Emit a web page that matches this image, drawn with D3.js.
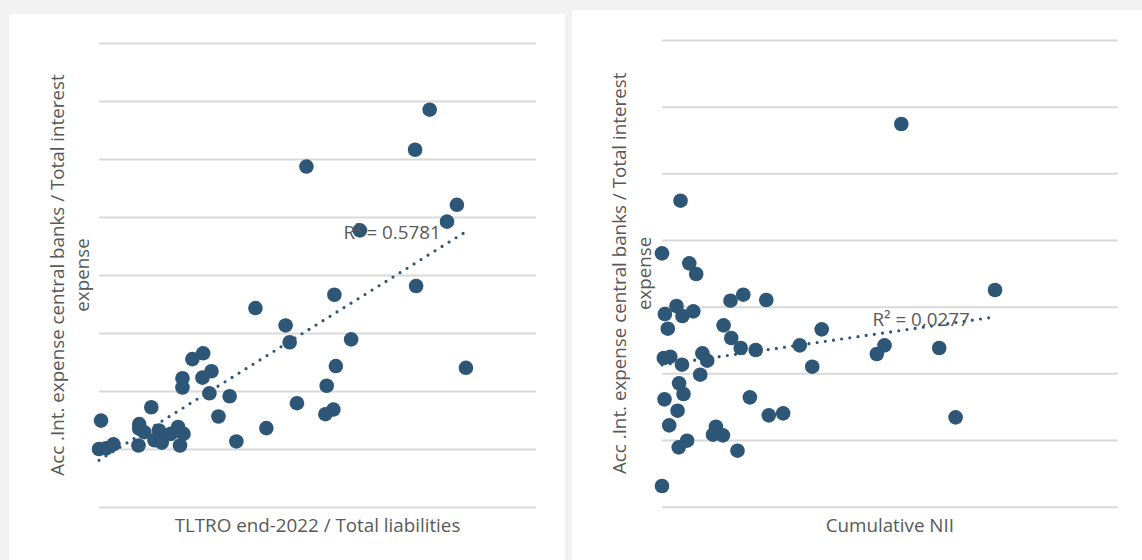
<!DOCTYPE html>
<html>
<head>
<meta charset="utf-8">
<script src="https://cdn.jsdelivr.net/npm/d3@7"></script>
<style>
  html, body { margin: 0; padding: 0; background: #f2f2f2; }
  svg { display: block; }
  text { font-family: "Open Sans", "Noto Sans", sans-serif; fill: #595959; }
</style>
</head>
<body>
<svg id="chart" width="1142" height="560"></svg>
<script>
// Left panel: TLTRO end-2022 / total liabilities vs. central-bank interest share
const tltroX = [0.2270, 0.2170, 0.1424, 0.2457, 0.2389, 0.1791, 0.2177, 0.1616, 0.1074, 0.1281,
                0.1309, 0.1731, 0.2519, 0.1626, 0.1563, 0.1609, 0.1554, 0.1359, 0.1149, 0.0943,
                0.0897, 0.0820, 0.0758, 0.0772, 0.0710, 0.0715, 0.0641, 0.0573, 0.0573, 0.0359,
                0.0014, 0.0000, 0.0049, 0.0099, 0.0271, 0.0276, 0.0276, 0.0311, 0.0411, 0.0381,
                0.0431, 0.0493, 0.0543, 0.0580, 0.0556];
const tltroY = [0.585, 0.516, 0.487, 0.421, 0.392, 0.377, 0.281, 0.266, 0.243, 0.213,
                0.184, 0.189, 0.140, 0.143, 0.109, 0.068, 0.060, 0.079, 0.036, 0.013,
                0.091, 0.056, 0.096, 0.134, 0.123, 0.165, 0.155, 0.122, 0.106, 0.072,
                0.049, 0.000, 0.001, 0.008, 0.006, 0.043, 0.035, 0.029, 0.032, 0.015,
                0.011, 0.026, 0.038, 0.026, 0.006];

// Right panel: cumulative NII vs. central-bank interest share
const niiX = [0.3151, 0.0244, 0.0000, 0.0359, 0.0450, 0.4385, 0.1070, 0.0902, 0.1373, 0.0191,
              0.0038, 0.0412, 0.0269, 0.0076, 0.0811, 0.2103, 0.0912, 0.1036, 0.1234, 0.1814,
              0.2930, 0.2828, 0.3650, 0.0024, 0.0109, 0.0263, 0.0532, 0.0595, 0.0503, 0.1978,
              0.0225, 0.0283, 0.0033, 0.1157, 0.0205, 0.1406, 0.1595, 0.3866, 0.0095, 0.0710,
              0.0672, 0.0802, 0.0330, 0.0220, 0.0994, 0.0000];
const niiY = [0.474, 0.359, 0.280, 0.265, 0.249, 0.225, 0.218, 0.209, 0.210, 0.201,
              0.189, 0.193, 0.186, 0.167, 0.172, 0.166, 0.153, 0.138, 0.135, 0.142,
              0.142, 0.129, 0.138, 0.123, 0.125, 0.113, 0.130, 0.119, 0.098, 0.110,
              0.085, 0.069, 0.061, 0.064, 0.044, 0.037, 0.040, 0.034, 0.022, 0.020,
              0.008, 0.007, -0.001, -0.011, -0.016, -0.069];

const yTitle = ["Acc .Int. expense central banks / Total interest", "expense"];
const leftXTitle = "TLTRO end-2022 / Total liabilities";
const rightXTitle = "Cumulative NII";
const leftR2 = "0.5781";
const rightR2 = "0.0277";

const leftYTicks = d3.range(-0.1, 0.7001, 0.1);
const rightYTicks = d3.range(-0.1, 0.6001, 0.1);

const markColor = "#2e5676";
const gridColor = "#d9d9d9";
const fontSize = 18.8;

const svg = d3.select("#chart");

// Least-squares fit, returns slope/intercept
function fit(xs, ys) {
  const mx = d3.mean(xs), my = d3.mean(ys);
  let sxy = 0, sxx = 0;
  xs.forEach((x, i) => { sxy += (x - mx) * (ys[i] - my); sxx += (x - mx) * (x - mx); });
  const b = sxy / sxx;
  return { b, a: my - b * mx };
}

function panel(cfg) {
  const g = svg.append("g");
  g.append("rect")
    .attr("x", cfg.box[0]).attr("y", cfg.box[1])
    .attr("width", cfg.box[2]).attr("height", cfg.box[3])
    .attr("fill", "#ffffff");

  const x = d3.scaleLinear().domain(cfg.xDomain).range([cfg.plot.left, cfg.plot.right]);
  const y = d3.scaleLinear().domain(cfg.yDomain).range([cfg.plot.bottom, cfg.plot.top]);

  // horizontal gridlines
  const yAxis = d3.axisLeft(y).tickValues(cfg.yTicks)
    .tickSize(-(cfg.plot.right - cfg.plot.left)).tickFormat("");
  const ga = g.append("g").attr("transform", `translate(${cfg.plot.left},0)`).call(yAxis);
  ga.select(".domain").remove();
  ga.selectAll(".tick line").attr("stroke", gridColor).attr("stroke-width", 2);

  // markers
  const pts = cfg.xs.map((v, i) => ({ x: v, y: cfg.ys[i] }));
  g.append("g").selectAll("circle").data(pts).join("circle")
    .attr("cx", d => x(d.x)).attr("cy", d => y(d.y)).attr("r", 7.3)
    .attr("fill", markColor);

  // linear trendline over the data range
  const { a, b } = fit(cfg.xs, cfg.ys);
  const [x0, x1] = d3.extent(cfg.xs);
  g.append("line")
    .attr("x1", x(x0)).attr("y1", y(a + b * x0))
    .attr("x2", x(x1)).attr("y2", y(a + b * x1))
    .attr("stroke", markColor).attr("stroke-width", 3.2)
    .attr("stroke-linecap", "round").attr("stroke-dasharray", "0 8.25");

  // R² label
  g.append("text")
    .attr("x", cfg.r2Pos[0]).attr("y", cfg.r2Pos[1])
    .attr("font-size", fontSize)
    .text("R² = " + cfg.r2);

  // axis titles
  const cx = (cfg.plot.left + cfg.plot.right) / 2;
  g.append("text").attr("x", cx).attr("y", cfg.xTitleY)
    .attr("text-anchor", "middle").attr("font-size", fontSize).text(cfg.xTitle);

  const cy = (cfg.plot.top + cfg.plot.bottom) / 2;
  yTitle.forEach((t, i) => {
    g.append("text")
      .attr("transform", `translate(${cfg.yTitleX[i]},${cy}) rotate(-90)`)
      .attr("text-anchor", "middle").attr("font-size", fontSize).text(t);
  });
}

panel({
  box: [9, 14, 556, 546],
  plot: { left: 99, right: 536, top: 43, bottom: 507 },
  xDomain: [0, 0.3], yDomain: [-0.1, 0.7], yTicks: leftYTicks,
  xs: tltroX, ys: tltroY,
  r2: leftR2, r2Pos: [343.5, 239],
  xTitle: leftXTitle, xTitleY: 532,
  yTitleX: [63.5, 88.5]
});

panel({
  box: [572, 10, 570, 550],
  plot: { left: 662, right: 1117.7, top: 40, bottom: 506.7 },
  xDomain: [0, 0.6], yDomain: [-0.1, 0.6], yTicks: rightYTicks,
  xs: niiX, ys: niiY,
  r2: rightR2, r2Pos: [872.5, 326],
  xTitle: rightXTitle, xTitleY: 532,
  yTitleX: [626, 651]
});
</script>
</body>
</html>
